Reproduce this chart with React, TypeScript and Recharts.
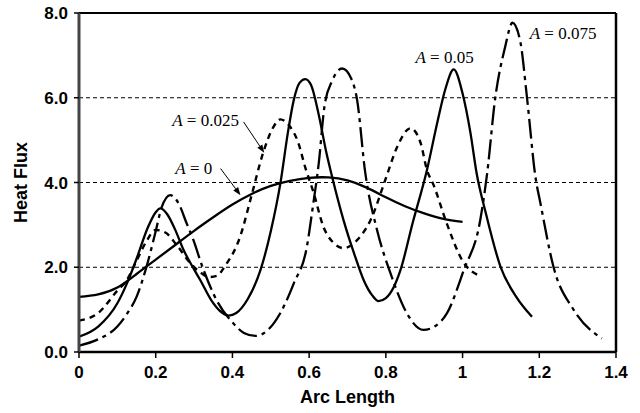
import React from 'react';
import {
  LineChart,
  Line,
  XAxis,
  YAxis,
  CartesianGrid,
  ReferenceLine,
  ReferenceDot,
} from 'recharts';

// ---- data ----
const arc0 = [0, 0.05, 0.1, 0.15, 0.2, 0.25, 0.3, 0.35, 0.4, 0.45, 0.5, 0.55, 0.6, 0.65, 0.7, 0.75, 0.8, 0.85, 0.9, 0.95, 1.0];
const flux0 = [1.30, 1.36, 1.52, 1.84, 2.18, 2.52, 2.86, 3.18, 3.48, 3.73, 3.92, 4.04, 4.11, 4.12, 4.05, 3.88, 3.65, 3.44, 3.27, 3.14, 3.07];

const arc025 = [0, 0.05, 0.1, 0.125, 0.15, 0.175, 0.2, 0.225, 0.255, 0.29, 0.316, 0.34, 0.36, 0.38, 0.42, 0.45, 0.48, 0.505, 0.525, 0.55, 0.572, 0.59, 0.612, 0.637, 0.663, 0.69, 0.725, 0.76, 0.8, 0.83, 0.864, 0.89, 0.907, 0.924, 0.959, 1.0, 1.046];
const flux025 = [0.74, 0.92, 1.45, 1.7, 2.15, 2.6, 2.88, 2.82, 2.52, 2.1, 1.88, 1.77, 1.8, 2.02, 2.72, 3.7, 4.7, 5.28, 5.49, 5.32, 4.93, 4.35, 3.75, 2.96, 2.58, 2.45, 2.64, 3.11, 4.1, 4.85, 5.28, 4.95, 4.3, 3.95, 3.03, 2.15, 1.79];

const arc05 = [0, 0.05, 0.1, 0.125, 0.15, 0.18, 0.2, 0.212, 0.23, 0.25, 0.273, 0.3, 0.316, 0.345, 0.37, 0.39, 0.41, 0.44, 0.473, 0.5, 0.525, 0.545, 0.56, 0.575, 0.59, 0.605, 0.625, 0.645, 0.66, 0.69, 0.72, 0.742, 0.765, 0.781, 0.8, 0.82, 0.838, 0.87, 0.907, 0.935, 0.955, 0.977, 1.0, 1.02, 1.037, 1.06, 1.099, 1.14, 1.181];
const flux05 = [0.36, 0.6, 1.15, 1.62, 2.2, 2.95, 3.3, 3.39, 3.25, 2.9, 2.4, 1.95, 1.7, 1.22, 0.95, 0.86, 0.92, 1.25, 1.93, 2.85, 3.98, 5.2, 5.95, 6.35, 6.44, 6.3, 5.6, 4.7, 4.13, 3.1, 2.25, 1.7, 1.33, 1.2, 1.27, 1.52, 1.93, 3.05, 4.29, 5.45, 6.2, 6.67, 6.1, 5.2, 4.2, 3.3, 2.01, 1.3, 0.83];

const arc075 = [0, 0.05, 0.1, 0.125, 0.15, 0.175, 0.2, 0.215, 0.238, 0.26, 0.28, 0.295, 0.325, 0.36, 0.4, 0.43, 0.46, 0.49, 0.525, 0.56, 0.594, 0.61, 0.625, 0.64, 0.66, 0.686, 0.71, 0.725, 0.746, 0.777, 0.812, 0.855, 0.898, 0.93, 0.959, 1.003, 1.046, 1.064, 1.085, 1.111, 1.13, 1.15, 1.168, 1.19, 1.203, 1.237, 1.29, 1.363];
const flux075 = [0.15, 0.3, 0.6, 0.9, 1.3, 1.98, 2.85, 3.4, 3.7, 3.5, 3.05, 2.72, 1.93, 1.2, 0.7, 0.45, 0.38, 0.5, 0.92, 1.62, 2.48, 3.45, 4.45, 5.8, 6.4, 6.69, 6.45, 5.95, 4.25, 2.88, 1.86, 0.91, 0.52, 0.62, 0.91, 1.93, 3.11, 4.21, 5.98, 7.2, 7.77, 7.35, 6.0, 4.13, 3.51, 2.01, 0.99, 0.32];

const xTicks = [0, 0.2, 0.4, 0.6, 0.8, 1, 1.2, 1.4];
const yTicks = [0, 2, 4, 6, 8];

const labelTexts = ['0.075', '0.05', '0.025', '0'];
const labelX = [1.175, 0.877, 0.243, 0.251];
const labelY = [7.38, 6.81, 5.338, 4.21];

const arrowFrom = [
  { x: 0.429, y: 5.43 },
  { x: 0.369, y: 4.33 },
];
const arrowTo = [
  { x: 0.483, y: 4.7 },
  { x: 0.421, y: 3.7 },
];

const zip = (xs: number[], ys: number[]) => xs.map((x, i) => ({ x, y: ys[i] }));

const s0 = zip(arc0, flux0);
const s025 = zip(arc025, flux025);
const s05 = zip(arc05, flux05);
const s075 = zip(arc075, flux075);

const SANS = "'Liberation Sans', Arial, sans-serif";
const SERIF = "'Liberation Serif', 'Times New Roman', serif";

const ArrowShape = (props: any) => {
  const { x1, y1, x2, y2 } = props;
  if ([x1, y1, x2, y2].some((v) => typeof v !== 'number' || isNaN(v))) return null;
  const ang = Math.atan2(y2 - y1, x2 - x1);
  const len = 8;
  const w = 3;
  const bx = x2 - len * Math.cos(ang);
  const by = y2 - len * Math.sin(ang);
  const px = -Math.sin(ang) * w;
  const py = Math.cos(ang) * w;
  return (
    <g>
      <line x1={x1} y1={y1} x2={bx} y2={by} stroke="#000" strokeWidth={1} />
      <polygon points={`${x2},${y2} ${bx + px},${by + py} ${bx - px},${by - py}`} fill="#000" />
    </g>
  );
};

const makeLabelShape = (txt: string) => (props: any) => {
  const { cx, cy } = props;
  return (
    <text x={cx} y={cy} fontFamily={SERIF} fontSize={17} fill="#000">
      <tspan fontStyle="italic">A</tspan>
      <tspan> = {txt}</tspan>
    </text>
  );
};

const YTitle = (props: any) => {
  const vb = props.viewBox || { x: 9, y: 13, width: 70, height: 339 };
  const cx = 27;
  const cy = vb.y + vb.height / 2;
  return (
    <text
      x={cx}
      y={cy}
      transform={`rotate(-90, ${cx}, ${cy})`}
      textAnchor="middle"
      fontFamily={SANS}
      fontWeight="bold"
      fontSize={18}
      fill="#000"
    >
      Heat Flux
    </text>
  );
};

const XTitle = (props: any) => {
  const vb = props.viewBox || { x: 79, y: 352, width: 537, height: 30 };
  const cx = vb.x + vb.width / 2;
  return (
    <text x={cx} y={403} textAnchor="middle" fontFamily={SANS} fontWeight="bold" fontSize={18} fill="#000">
      Arc Length
    </text>
  );
};

export default function App() {
  return (
    <div style={{ position: 'absolute', left: 0, top: 0, background: '#fff' }}>
      <LineChart width={640} height={413} margin={{ top: 13, right: 24, bottom: 31, left: 9 }}>
        <CartesianGrid vertical={false} stroke="#000" strokeDasharray="4 3" strokeWidth={1} />
        <XAxis
          dataKey="x"
          type="number"
          domain={[0, 1.4]}
          ticks={xTicks}
          height={30}
          tickSize={6}
          tickMargin={8}
          axisLine={{ stroke: '#000', strokeWidth: 2.5 }}
          tickLine={{ stroke: '#000', strokeWidth: 1.5 }}
          tick={{ fontFamily: SANS, fontWeight: 'bold', fontSize: 17, fill: '#000' }}
          allowDataOverflow
          label={<XTitle />}
        />
        <YAxis
          dataKey="y"
          type="number"
          domain={[0, 8]}
          ticks={yTicks}
          width={70}
          tickSize={5}
          tickMargin={6}
          tickFormatter={(v: number) => v.toFixed(1)}
          axisLine={{ stroke: '#444', strokeWidth: 3 }}
          tickLine={{ stroke: '#000', strokeWidth: 1.5 }}
          tick={{ fontFamily: SANS, fontWeight: 'bold', fontSize: 17, fill: '#000' }}
          allowDataOverflow
          label={<YTitle />}
        />
        <ReferenceLine y={8} stroke="#000" strokeWidth={2} />
        <ReferenceLine x={1.4} stroke="#000" strokeWidth={2.5} />

        <Line data={s0} dataKey="y" type="natural" stroke="#000" strokeWidth={2.3} dot={false} activeDot={false} isAnimationActive={false} />
        <Line data={s025} dataKey="y" type="monotone" stroke="#000" strokeWidth={2.4} strokeDasharray="6 5" dot={false} activeDot={false} isAnimationActive={false} />
        <Line data={s05} dataKey="y" type="monotone" stroke="#000" strokeWidth={2.3} dot={false} activeDot={false} isAnimationActive={false} />
        <Line data={s075} dataKey="y" type="monotone" stroke="#000" strokeWidth={2.3} strokeDasharray="20 5 4 5" dot={false} activeDot={false} isAnimationActive={false} />

        {arrowFrom.map((f, i) => (
          <ReferenceLine key={`arr${i}`} segment={[f, arrowTo[i]]} shape={ArrowShape} />
        ))}
        {labelTexts.map((t, i) => (
          <ReferenceDot key={`lab${i}`} x={labelX[i]} y={labelY[i]} r={0} shape={makeLabelShape(t)} />
        ))}
      </LineChart>
    </div>
  );
}
